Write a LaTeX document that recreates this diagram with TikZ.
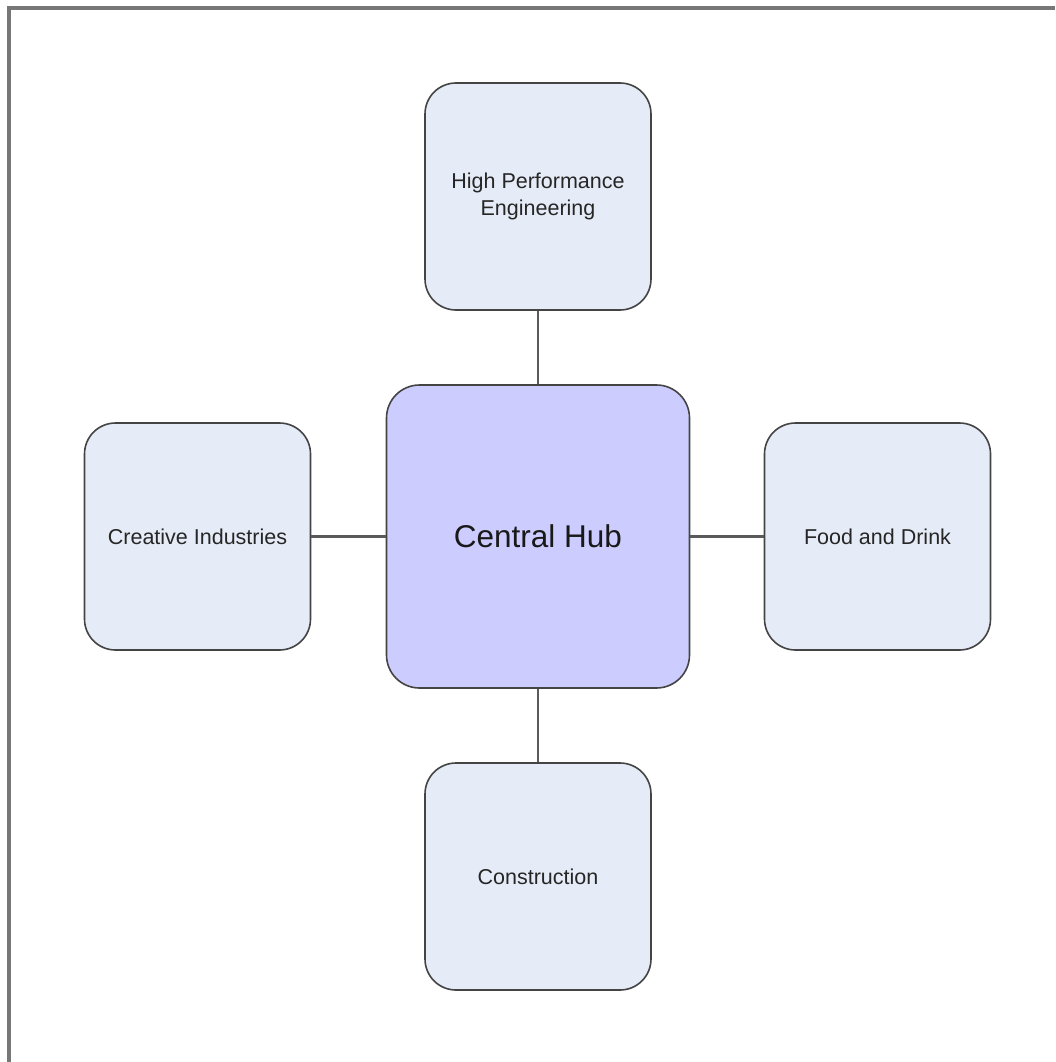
\documentclass[tikz,border=0pt]{standalone}
\usepackage{fontspec}
\setmainfont{Liberation Sans}
\definecolor{smallfill}{HTML}{E6ECF7}
\definecolor{hubfill}{HTML}{CCCCFF}
\definecolor{edgegray}{HTML}{444444}
\definecolor{linkgray}{HTML}{5A5A5A}
\definecolor{framegray}{HTML}{777777}
\begin{document}
\begin{tikzpicture}[x=1pt,y=-1pt,
  sector/.style={draw=edgegray, line width=1.6pt, fill=smallfill, rounded corners=31pt,
    minimum width=226pt, minimum height=227pt, inner sep=0pt, align=center,
    font=\fontsize{21.5}{27}\selectfont, text=black!85},
  hub/.style={draw=edgegray, line width=1.6pt, fill=hubfill, rounded corners=33pt,
    minimum width=303pt, minimum height=303pt, inner sep=0pt,
    font=\fontsize{31.5}{36}\selectfont, text=black!90},
  link/.style={draw=linkgray, line width=2.8pt}]
\useasboundingbox (0,0) rectangle (1055,1062);
\draw[framegray, line width=3.5pt] (9,1062) -- (9,8) -- (1055,8);
\node[hub] (hub) at (538,536.5) {Central Hub};
\node[sector] (top) at (538,196.5) {High Performance\\Engineering};
\node[sector] (left) at (197.5,536.5) {Creative Industries};
\node[sector] (right) at (877.5,536.5) {Food and Drink};
\node[sector] (bottom) at (538,876.5) {Construction};
\draw[link] (top.south) -- (hub.north);
\draw[link] (hub.west) -- (left.east);
\draw[link] (hub.east) -- (right.west);
\draw[link] (hub.south) -- (bottom.north);
\end{tikzpicture}
\end{document}
